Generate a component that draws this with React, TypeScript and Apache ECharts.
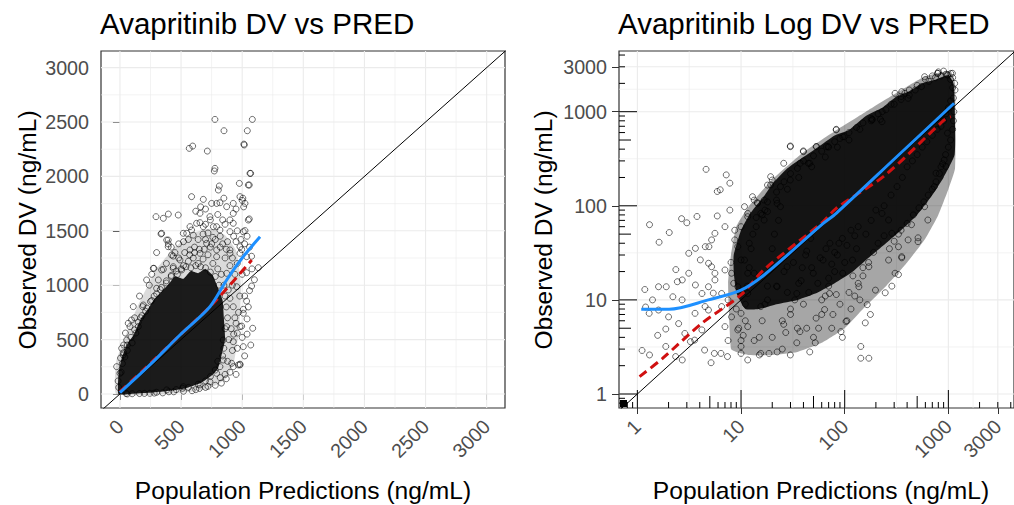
import React, { useEffect, useRef } from "react";
import * as echarts from "echarts";

const FONT = "'Liberation Sans', Arial, sans-serif";

// ---------- axis ticks / gridlines ----------
const linTicks = [0, 500, 1000, 1500, 2000, 2500, 3000];
const linMinor = [250, 750, 1250, 1750, 2250, 2750];
const logTicks = [1, 10, 100, 1000, 3000];
const logMinor = [3.162, 31.62, 316.2, 1732];
const logMarksShort = [0.7, 0.8, 0.9, 2, 3, 4, 6, 7, 8, 9, 20, 30, 40, 60, 70, 80, 90, 200, 300, 400, 600, 700, 800, 900, 2000, 3000, 4000];
const logMarksMid = [5, 50, 500];
const logMarksLong = [1, 10, 100, 1000];

// ---------- left panel (linear) ----------
const leftIdentity = [[-500, -500], [4000, 4000]];
const leftLoess = [[0, 12], [245, 267], [491, 542], [736, 802], [873, 1048], [1000, 1250], [1146, 1446]];
const leftTrend = [[0, 21], [191, 220], [491, 542], [764, 834], [1078, 1231]];
// densest (overplotted) zone
const leftCore = [
  [-12, 0], [-10, 200], [15, 330], [60, 460], [110, 540], [170, 690], [230, 780], [280, 870], [340, 940],
  [400, 1010], [450, 1080], [520, 1060], [580, 1130], [640, 1110], [700, 1150], [760, 1090], [800, 980],
  [840, 860], [850, 700], [860, 500], [830, 350], [800, 230], [740, 160], [660, 100], [560, 60], [450, 35],
  [330, 20], [200, 8], [90, 0],
];
// surrounding mid-density zone
const leftHalo = [
  [-30, 0], [-30, 300], [40, 520], [150, 820], [300, 1150], [450, 1350], [600, 1480], [750, 1520],
  [860, 1460], [950, 1320], [990, 1000], [975, 600], [930, 280], [860, 130], [700, 40], [400, 0],
];
const leftPoints = [
  [777, 2524], [1083, 2524], [851, 2420], [1042, 2420], [595, 2279], [567, 2258], [1017, 2289], [715, 2233],
  [777, 2074], [772, 2050], [1064, 2028], [813, 1912], [805, 1875], [977, 1936], [1050, 1921], [586, 1814],
  [682, 1789], [750, 1752], [791, 1752], [818, 1758], [927, 1752], [982, 1814], [1023, 1752], [1000, 1780],
  [1012, 1720], [1005, 1800], [295, 1630], [355, 1615], [396, 1654], [477, 1645], [927, 1660], [1050, 1599],
  [336, 1471], [382, 1415], [396, 1379], [436, 1268], [546, 1477], [586, 1507], [655, 1575], [682, 1538],
  [764, 1538], [818, 1507], [900, 1492], [278, 1155], [355, 1146], [436, 1155], [505, 1140], [218, 1048],
  [300, 971], [109, 803], [191, 818], [68, 650], [513, 52], [927, 251], [982, 267], [1086, 604],
  [900, 1324], [982, 1354], [1036, 1262], [1014, 2297], [1069, 2028], [1058, 1921], [1058, 1609], [1023, 1502],
  [996, 1327], [1077, 1266], [1132, 1161], [1036, 1115], [1077, 992], [1036, 854], [1009, 778], [996, 624],
  [982, 274], [341, 1477], [395, 1415], [395, 1354], [423, 1278], [273, 1155], [341, 1140], [436, 1170],
  [314, 1048], [186, 803], [82, 619], [95, 680], [55, 496], [14, 420], [27, 358], [-27, 251], [0, 190],
  [518, 1477], [573, 1538], [655, 1661], [627, 1569], [736, 1630], [791, 1538], [873, 1722], [927, 1569],
  [1009, 1492], [982, 1293], [900, 1293], [873, 1109], [955, 986], [927, 802], [1009, 742], [982, 619],
  [927, 481], [1009, 435], [914, 282], [968, 267], [845, 312], [873, 619], [886, 956], [791, 1324],
  [709, 1385], [655, 1293], [573, 1324], [491, 1232], [791, 1262], [518, 67], [655, 83], [736, 113],
  [791, 190], [818, 251], [382, 37], [245, 6], [845, 496],
  [20, 280], [40, 340], [60, 400], [100, 470], [130, 560], [150, 620], [170, 700], [210, 760], [250, 850],
  [280, 900], [330, 960], [380, 1020], [420, 1080], [470, 1100], [520, 1180], [560, 1220], [600, 1250],
  [640, 1200], [680, 1240], [720, 1280], [760, 1200], [800, 1150], [830, 1100], [850, 1000], [860, 900],
  [870, 800], [880, 700], [860, 600], [850, 420], [840, 350], [800, 300], [780, 220], [740, 160], [700, 120],
  [640, 90], [560, 60], [460, 40], [400, 20], [300, 15], [200, 5], [100, 2], [50, 5], [-10, 60], [-15, 120],
  [10, 200], [450, 1300], [480, 1380], [520, 1400], [560, 1420], [600, 1460], [640, 1420], [680, 1470],
  [720, 1480], [760, 1440], [700, 1560], [740, 1600], [620, 1680], [660, 1720], [700, 1700], [800, 1650],
  [840, 1600], [860, 1560], [900, 1600], [950, 1700], [880, 1400], [950, 1400], [960, 1200], [1000, 1100],
  [940, 1100], [980, 900], [940, 700], [960, 560], [920, 400], [880, 300], [1000, 520], [1040, 690],
  [850, 1800], [610, 1350], [690, 1330], [740, 1350], [820, 1350], [860, 1250], [900, 1180], [920, 1000],
  [900, 880], [910, 600], [890, 500], [860, 180], [820, 150], [700, 60], [620, 40], [240, 1000], [260, 1100],
  [380, 1200], [420, 1350], [300, 1300], [160, 900], [120, 700], [30, 450], [45, 560],
  [5, 330], [30, 380], [60, 450], [90, 520], [120, 590], [150, 660], [180, 720], [220, 790], [260, 860],
  [300, 920], [340, 980], [380, 1040], [420, 1090], [460, 1130], [500, 1150], [540, 1170], [580, 1160],
  [620, 1180], [660, 1170], [700, 1160], [740, 1120], [780, 1080], [810, 1000],
  [480, 1250], [530, 1300], [570, 1280], [610, 1300], [650, 1330], [700, 1420], [750, 1380], [780, 1420],
  [820, 1450], [840, 1380], [870, 1330], [920, 1250], [930, 1450], [960, 1500], [990, 1420], [1020, 1380],
  [1040, 1450], [1060, 1350], [1080, 1150], [1100, 1050], [1060, 950], [1050, 800], [1020, 900], [970, 750],
  [950, 650], [930, 550], [1040, 550], [1070, 450], [1020, 350], [960, 420], [900, 200], [950, 180],
  [870, 140], [830, 100], [780, 80], [720, 70], [650, 50], [590, 30], [520, 25], [440, 20], [350, 10],
  [280, 8], [160, 4], [60, 0],
];

// ---------- right panel (log) ----------
const rightIdentity = [[0.1, 0.1], [10000, 10000]];
const rightLoess = [[1.09, 7.94], [2.02, 7.94], [4.84, 10], [10, 12.7], [16.7, 18.4], [61.7, 64.6], [82.8, 83.2], [316, 330], [1135, 1230]];
const rightTrend = [[1.05, 1.53], [1.75, 2.39], [4.19, 5.64], [10, 11.3], [16.6, 20.9], [61.7, 67.6], [82.8, 94], [246, 212], [912, 817], [1057, 885]];
const rightCore = [
  [8.5, 30], [10, 55], [12, 80], [14, 100], [17, 130], [20, 170], [28, 250], [40, 330], [55, 420], [80, 560],
  [110, 640], [160, 900], [230, 1100], [316, 1450], [420, 1650], [560, 2000], [760, 2200], [1000, 2450],
  [1120, 2000], [1150, 1200], [1150, 350], [900, 200], [700, 130], [500, 80], [350, 55], [250, 40], [170, 28],
  [120, 20], [80, 15], [55, 12], [35, 10], [22, 9], [15, 8], [11, 8], [9, 12], [8.5, 20],
];
const rightHalo = [
  [8, 3], [7.5, 15], [8, 30], [9, 60], [12, 100], [20, 190], [40, 370], [80, 620], [160, 1000], [320, 1600],
  [560, 2300], [800, 2600], [1050, 2700], [1160, 2000], [1160, 250], [1000, 150], [800, 80], [600, 45],
  [400, 25], [250, 14], [150, 8], [100, 5], [60, 3.5], [35, 2.8], [20, 2.6], [12, 2.6], [9, 2.8],
];
const rightPoints = [
  [4.6, 244], [7.2, 213], [7.8, 174], [5.9, 142], [6.3, 148], [1.31, 63], [2.03, 52], [1.62, 41], [2.67, 73],
  [3.0, 66], [3.76, 77], [5.9, 78], [7.8, 90], [8.7, 55], [1.18, 12.9], [1.2, 8.4], [1.11, 2.9], [1.31, 2.6],
  [1.57, 4.2], [1.88, 4.9], [2.35, 21], [2.43, 15.6], [2.71, 16.3], [3.13, 19.2], [3.63, 14.4], [3.13, 31.3],
  [3.63, 35.3], [4.52, 36.8], [5.2, 43.4], [4.05, 26.6], [4.86, 24.5], [5.6, 19.2], [7.0, 20.8], [1.6, 7.8],
  [2.0, 6.6], [2.5, 5.6], [2.87, 4.4], [3.57, 3.74], [4.45, 2.93], [5.14, 2.15], [5.53, 2.7], [6.4, 2.7],
  [7.4, 2.5], [2.71, 2.3], [2.34, 2.5], [1.88, 3.2], [3.25, 3.6], [4.19, 4.8], [4.85, 7.8], [6.5, 8.5],
  [8.1, 6.6], [10, 3.7], [11.6, 2.3], [4.85, 13.8], [5.4, 11.8],
  [10, 60], [11.6, 83], [13.4, 115], [15.5, 83], [9.3, 36.8], [10, 26.6], [11.6, 19.2], [9.3, 13.8], [10, 7.2],
  [9.3, 4.8], [11.6, 5.2], [13.4, 3.7], [15.5, 2.7], [10, 2.7], [7.5, 3.7], [7, 5.2], [6.5, 11.7], [5.6, 16.3],
  [5.2, 22.5], [4.9, 36.8], [5.6, 51], [7, 60], [8.7, 43.4], [8.1, 19.2], [7.5, 10], [4.2, 11.7], [4.5, 8.5],
  [3.6, 7.2], [2.7, 10], [2.2, 10.8], [1.9, 13.8], [1.6, 13.8], [1.4, 10], [1.3, 7.2],
  [29.9, 432], [39.9, 383], [25.8, 283], [46, 283], [53, 426], [69, 426], [83, 650], [99, 543], [184, 830],
  [221, 830], [306, 1567], [381, 1567], [590, 2355], [789, 2553], [1054, 2553], [20, 188], [19.3, 167],
  [14.4, 108], [18, 87], [22.3, 106], [510, 45.7], [355, 28], [330, 18.6], [285, 14], [246, 11.9], [165, 8.9],
  [177, 7.0], [158, 5.7], [103, 5.9], [92, 4.6], [143, 3.2], [143, 2.4], [171, 2.4], [77, 7.0], [83, 11.4],
  [64, 7.9], [53, 6.4], [43, 5.0], [46, 2.8], [34.5, 3.5], [29.9, 2.6], [22.3, 2.8], [18.6, 2.7], [15, 2.6],
  [37, 4.6], [25.8, 5.5], [980, 592], [944, 262], [760, 222], [441, 63], [330, 50],
  [10.8, 26.5], [13.4, 19.2], [11.6, 11.7], [15.5, 8.5], [22.3, 13.8], [27.8, 22.5], [34.5, 11.7], [49.8, 19.2],
  [61.8, 26.5], [71.4, 11.7], [95.7, 19.2], [119, 26.5], [137, 13.8], [171, 22.5], [198, 12.7], [265, 26.5],
  [330, 36.7], [306, 19.2], [409, 43.4], [510, 41.6], [355, 28.8], [285, 51], [265, 70.6], [229, 83],
  [634, 70.6], [849, 260], [912, 307], [733, 160], [590, 98],
  [29.9, 425], [40, 376], [37.2, 283], [44.6, 283], [53.5, 425], [66.5, 425], [82.8, 640],
  [95.7, 542], [184, 817], [229, 783], [355, 1633], [409, 1387], [789, 2559],
  [982, 2455], [1094, 2559], [19.3, 204], [18, 166], [12.9, 125], [10.8, 98], [11.6, 76.6], [14.4, 106],
  [16.7, 115], [24, 160], [29.9, 188], [24, 98], [16.7, 70.6],
  [20, 4], [25, 6], [30, 8], [35, 5], [40, 9], [45, 12], [50, 4], [55, 15], [60, 10], [70, 14], [75, 5], [80, 20],
  [90, 9], [100, 25], [110, 12], [120, 18], [130, 35], [140, 10], [150, 22], [18, 10], [22, 14], [26, 20],
  [32, 25], [28, 12], [38, 16], [42, 30], [48, 22], [58, 28], [66, 35], [72, 40], [85, 30], [95, 45], [105, 38],
  [115, 55], [125, 48], [135, 60], [160, 50], [180, 70], [200, 90], [240, 100], [280, 130], [320, 160], [360, 200],
  [400, 260], [450, 300], [500, 350], [560, 420], [620, 480], [700, 560], [780, 650], [850, 700], [900, 800],
  [950, 950], [1000, 1100], [1050, 1300],
  [12, 40], [14, 60], [16, 80], [18, 110], [22, 140], [26, 180], [30, 220], [35, 250], [40, 300], [50, 340],
  [60, 380], [70, 420], [80, 480], [90, 520], [110, 600], [130, 680], [150, 760], [180, 850], [210, 950],
  [250, 1050], [300, 1200], [350, 1350], [420, 1500], [480, 1700], [550, 1850], [650, 2100], [750, 2300],
  [850, 2400], [950, 2500], [1100, 2300], [1150, 2000], [1160, 1700],
  [8, 25], [8.5, 15], [9, 8], [9.5, 5], [10, 3.2], [10.5, 4.2], [11, 6], [11, 9], [11.5, 14], [12, 22], [12.5, 35],
  [13, 50], [14, 75], [15, 4], [16, 6], [17, 9], [18, 14], [19, 22], [20, 35], [21, 50], [23, 70], [25, 3],
  [27, 4.5], [30, 7], [33, 10], [36, 15], [39, 22], [43, 33], [47, 45], [52, 3.5], [56, 5], [60, 7], [65, 11],
  [70, 17], [75, 24], [80, 32], [88, 40], [95, 4], [105, 6], [115, 8], [125, 11], [135, 15], [150, 18], [170, 25],
  [190, 32], [210, 40], [240, 48], [270, 35], [300, 42], [350, 55], [400, 65], [460, 80], [520, 95], [580, 110],
  [640, 130], [700, 150], [760, 180], [820, 220], [880, 280], [940, 350], [1000, 420], [1050, 500], [1100, 650],
  [1120, 800], [1130, 1000], [1120, 1400], [1100, 1800], [1050, 2200], [900, 2700], [800, 2650], [700, 2400],
  [600, 2200], [500, 1900], [420, 1700], [350, 1450], [280, 1200], [230, 1000], [180, 800], [140, 650],
  [110, 500], [85, 420], [65, 330], [48, 260], [36, 200], [28, 150], [22, 115], [17, 90],
];

const TICK_COLOR = "#333333";
const LABEL_COLOR = "#4D4D4D";
const GRID_COLOR = "#EBEBEB";

function gridSeries(idx: number, vals: number[], dir: "x" | "y", ref: number, width: number) {
  return {
    type: "custom",
    xAxisIndex: idx,
    yAxisIndex: idx,
    silent: true,
    z: 1,
    data: vals.map((v) => (dir === "x" ? [v, ref] : [ref, v])),
    renderItem: (params: any, api: any) => {
      const cs = params.coordSys;
      const p = api.coord([api.value(0), api.value(1)]);
      const shape =
        dir === "x"
          ? { x1: p[0], y1: cs.y, x2: p[0], y2: cs.y + cs.height }
          : { x1: cs.x, y1: p[1], x2: cs.x + cs.width, y2: p[1] };
      return { type: "line", shape, style: { stroke: GRID_COLOR, lineWidth: width } };
    },
  };
}

function logTickSeries(idx: number, vals: number[], dir: "x" | "y", len: number) {
  return {
    type: "custom",
    xAxisIndex: idx,
    yAxisIndex: idx,
    silent: true,
    z: 6,
    data: vals.map((v) => (dir === "x" ? [v, 1] : [1, v])),
    renderItem: (params: any, api: any) => {
      const cs = params.coordSys;
      const p = api.coord([api.value(0), api.value(1)]);
      const bottom = cs.y + cs.height;
      const shape =
        dir === "x"
          ? { x1: p[0], y1: bottom, x2: p[0], y2: bottom - len }
          : { x1: cs.x, y1: p[1], x2: cs.x + len, y2: p[1] };
      if (dir === "x" && (p[0] < cs.x || p[0] > cs.x + cs.width)) return null;
      if (dir === "y" && (p[1] < cs.y || p[1] > bottom)) return null;
      return { type: "line", shape, style: { stroke: "#000", lineWidth: 1 } };
    },
  };
}

function zoneSeries(idx: number, poly: number[][], fill: string, z: number) {
  return {
    type: "custom",
    xAxisIndex: idx,
    yAxisIndex: idx,
    silent: true,
    z,
    data: [poly[0]],
    renderItem: (_params: any, api: any) => ({
      type: "polygon",
      shape: { points: poly.map((p) => api.coord(p)), smooth: 0.15 },
      style: { fill },
    }),
  };
}

function scatterSeries(idx: number, pts: number[][]) {
  return {
    type: "scatter",
    xAxisIndex: idx,
    yAxisIndex: idx,
    data: pts,
    symbol: "circle",
    symbolSize: 6,
    z: 3,
    itemStyle: { color: "rgba(0,0,0,0)", borderColor: "rgba(0,0,0,0.7)", borderWidth: 1 },
  };
}

function lineSeries(idx: number, pts: number[][], color: string, width: number, type: any, smooth: number, z: number) {
  return {
    type: "line",
    xAxisIndex: idx,
    yAxisIndex: idx,
    data: pts,
    symbol: "none",
    smooth,
    clip: true,
    z,
    lineStyle: { color, width, type },
  };
}

const tickLabel = (v: number) => String(Math.round(v));

function xAxisCfg(idx: number, type: string, min: number, max: number, ticks: number[]) {
  return {
    type,
    gridIndex: idx,
    min,
    max,
    axisLine: { show: false },
    splitLine: { show: false },
    axisTick: { show: true, customValues: ticks, length: 6, lineStyle: { color: TICK_COLOR, width: 1 } },
    axisLabel: {
      customValues: ticks,
      rotate: 45,
      margin: 15,
      fontSize: 19.7,
      fontFamily: FONT,
      color: LABEL_COLOR,
      formatter: tickLabel,
    },
  };
}

function yAxisCfg(idx: number, type: string, min: number, max: number, ticks: number[]) {
  return {
    type,
    gridIndex: idx,
    min,
    max,
    axisLine: { show: false },
    splitLine: { show: false },
    axisTick: { show: true, customValues: ticks, length: 7, lineStyle: { color: TICK_COLOR, width: 1 } },
    axisLabel: {
      customValues: ticks,
      margin: 12,
      fontSize: 19.7,
      fontFamily: FONT,
      color: LABEL_COLOR,
      formatter: tickLabel,
    },
  };
}

export default function App() {
  const ref = useRef<HTMLDivElement>(null);
  useEffect(() => {
    if (!ref.current) return;
    const chart = echarts.init(ref.current, null, { renderer: "svg" });
    const option: any = {
      animation: false,
      backgroundColor: "#ffffff",
      grid: [
        { left: 101, top: 51, width: 404, height: 357, show: true, borderColor: "#333333", borderWidth: 1.2, backgroundColor: "#fff" },
        { left: 619, top: 51, width: 402, height: 357, show: true, borderColor: "#333333", borderWidth: 1.2, backgroundColor: "#fff" },
      ],
      xAxis: [
        xAxisCfg(0, "value", -155, 3150, linTicks),
        { ...xAxisCfg(1, "log", 0.665, 4297, logTicks), logBase: 10 },
      ],
      yAxis: [
        yAxisCfg(0, "value", -129, 3153, linTicks),
        { ...yAxisCfg(1, "log", 0.71, 4416, logTicks), logBase: 10 },
      ],
      graphic: [
        { type: "text", x: 100, y: 23, style: { text: "Avapritinib DV vs PRED", fontSize: 29.5, fontFamily: FONT, fill: "#000", align: "left", verticalAlign: "middle" } },
        { type: "text", x: 618, y: 23, style: { text: "Avapritinib Log DV vs PRED", fontSize: 29.5, fontFamily: FONT, fill: "#000", align: "left", verticalAlign: "middle" } },
        { type: "text", x: 303, y: 490, style: { text: "Population Predictions (ng/mL)", fontSize: 24.6, fontFamily: FONT, fill: "#000", align: "center", verticalAlign: "middle" } },
        { type: "text", x: 821, y: 490, style: { text: "Population Predictions (ng/mL)", fontSize: 24.6, fontFamily: FONT, fill: "#000", align: "center", verticalAlign: "middle" } },
        { type: "text", x: 27, y: 230, rotation: Math.PI / 2, style: { text: "Observed DV (ng/mL)", fontSize: 24.6, fontFamily: FONT, fill: "#000", align: "center", verticalAlign: "middle" } },
        { type: "text", x: 543, y: 230, rotation: Math.PI / 2, style: { text: "Observed DV (ng/mL)", fontSize: 24.6, fontFamily: FONT, fill: "#000", align: "center", verticalAlign: "middle" } },
        { type: "rect", shape: { x: 620, y: 400, width: 7, height: 7 }, style: { fill: "#000" }, z: 100 },
      ],
      series: [
        gridSeries(0, linMinor, "x", 0, 0.6),
        gridSeries(0, linMinor, "y", 0, 0.6),
        gridSeries(0, linTicks, "x", 0, 1.1),
        gridSeries(0, linTicks, "y", 0, 1.1),
        gridSeries(1, logMinor, "x", 1, 0.6),
        gridSeries(1, logMinor, "y", 1, 0.6),
        gridSeries(1, logTicks, "x", 1, 1.1),
        gridSeries(1, logTicks, "y", 1, 1.1),
        zoneSeries(0, leftHalo, "rgba(0,0,0,0.14)", 2),
        zoneSeries(1, rightHalo, "rgba(0,0,0,0.35)", 2),
        zoneSeries(0, leftCore, "rgba(0,0,0,0.88)", 2),
        zoneSeries(1, rightCore, "rgba(0,0,0,0.88)", 2),
        scatterSeries(0, leftPoints),
        scatterSeries(1, rightPoints),
        lineSeries(0, leftIdentity, "#000000", 1, "solid", 0, 4),
        lineSeries(0, leftTrend, "#D01010", 3, [9, 5], 0.3, 5),
        lineSeries(0, leftLoess, "#1E90FF", 3, "solid", 0.3, 5),
        lineSeries(1, rightIdentity, "#000000", 1, "solid", 0, 4),
        lineSeries(1, rightTrend, "#D01010", 3, [9, 5], 0.3, 5),
        lineSeries(1, rightLoess, "#1E90FF", 3, "solid", 0.3, 5),
        logTickSeries(1, logMarksShort, "x", 6),
        logTickSeries(1, logMarksMid, "x", 12),
        logTickSeries(1, logMarksLong, "x", 18),
        logTickSeries(1, logMarksShort, "y", 6),
        logTickSeries(1, logMarksMid, "y", 12),
        logTickSeries(1, logMarksLong, "y", 18),
      ],
    };
    chart.setOption(option);
    return () => chart.dispose();
  }, []);
  return (
    <div
      ref={ref}
      style={{ position: "fixed", left: 0, top: 0, width: 1014, height: 505, background: "#fff" }}
    />
  );
}
